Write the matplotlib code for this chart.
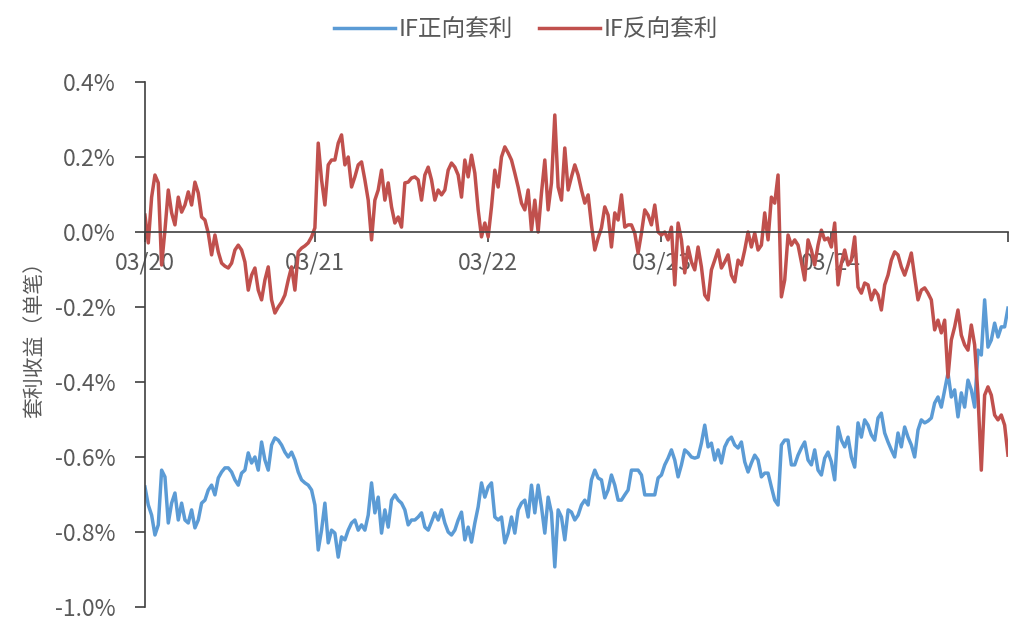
import numpy as np
import matplotlib
matplotlib.use("Agg")
import matplotlib.pyplot as plt
from matplotlib.ticker import FuncFormatter, FixedLocator

plt.rcParams['font.family'] = ['Noto Sans CJK SC', 'DejaVu Sans']

# weekly readings (%), 03/2020 -> 03/2025
fwd = [
    -0.680, -0.728, -0.755, -0.808, -0.781, -0.635, -0.653, -0.776, -0.723, -0.696,
    -0.768, -0.723, -0.768, -0.776, -0.741, -0.789, -0.768, -0.723, -0.715, -0.688,
    -0.675, -0.701, -0.656, -0.640, -0.629, -0.629, -0.640, -0.661, -0.675, -0.643,
    -0.635, -0.589, -0.616, -0.600, -0.635, -0.560, -0.608, -0.635, -0.568, -0.549,
    -0.555, -0.568, -0.587, -0.600, -0.587, -0.608, -0.640, -0.661, -0.669, -0.675,
    -0.688, -0.728, -0.848, -0.795, -0.723, -0.829, -0.795, -0.803, -0.867, -0.813,
    -0.821, -0.795, -0.776, -0.768, -0.795, -0.781, -0.795, -0.755, -0.669, -0.749,
    -0.707, -0.803, -0.741, -0.787, -0.715, -0.701, -0.715, -0.723, -0.741, -0.781,
    -0.768, -0.768, -0.760, -0.749, -0.787, -0.795, -0.773, -0.749, -0.768, -0.741,
    -0.776, -0.800, -0.808, -0.795, -0.768, -0.747, -0.821, -0.787, -0.827, -0.776,
    -0.733, -0.669, -0.707, -0.680, -0.669, -0.760, -0.768, -0.760, -0.829, -0.803,
    -0.760, -0.803, -0.741, -0.723, -0.715, -0.760, -0.675, -0.749, -0.675, -0.733,
    -0.803, -0.707, -0.749, -0.893, -0.741, -0.760, -0.821, -0.741, -0.747, -0.768,
    -0.755, -0.728, -0.715, -0.728, -0.661, -0.635, -0.656, -0.661, -0.709, -0.688,
    -0.648, -0.675, -0.715, -0.715, -0.701, -0.688, -0.635, -0.635, -0.635, -0.648,
    -0.701, -0.701, -0.701, -0.701, -0.656, -0.648, -0.621, -0.603, -0.581, -0.608,
    -0.653, -0.621, -0.581, -0.589, -0.600, -0.603, -0.600, -0.563, -0.515, -0.573,
    -0.563, -0.608, -0.581, -0.616, -0.573, -0.555, -0.547, -0.568, -0.576, -0.560,
    -0.613, -0.640, -0.616, -0.595, -0.608, -0.653, -0.643, -0.643, -0.680, -0.715,
    -0.728, -0.568, -0.555, -0.555, -0.621, -0.621, -0.595, -0.576, -0.560, -0.608,
    -0.621, -0.581, -0.635, -0.648, -0.603, -0.587, -0.613, -0.661, -0.520, -0.555,
    -0.573, -0.547, -0.600, -0.627, -0.509, -0.547, -0.501, -0.515, -0.541, -0.555,
    -0.496, -0.483, -0.536, -0.560, -0.581, -0.600, -0.536, -0.573, -0.520, -0.547,
    -0.568, -0.600, -0.528, -0.501, -0.509, -0.504, -0.496, -0.456, -0.440, -0.467,
    -0.421, -0.376, -0.440, -0.421, -0.493, -0.429, -0.467, -0.395, -0.421, -0.467,
    -0.315, -0.328, -0.181, -0.307, -0.288, -0.243, -0.280, -0.253, -0.253, -0.203,
]

rev = [
    0.045, -0.029, 0.093, 0.152, 0.131, -0.088, 0.005, 0.112, 0.051, 0.019,
    0.093, 0.053, 0.072, 0.107, 0.072, 0.133, 0.104, 0.040, 0.032, -0.003,
    -0.061, -0.008, -0.053, -0.083, -0.091, -0.096, -0.083, -0.048, -0.035, -0.048,
    -0.080, -0.155, -0.115, -0.096, -0.155, -0.181, -0.128, -0.093, -0.181, -0.216,
    -0.200, -0.187, -0.168, -0.128, -0.093, -0.155, -0.053, -0.043, -0.037, -0.029,
    -0.013, 0.011, 0.237, 0.139, 0.072, 0.179, 0.192, 0.192, 0.237, 0.259,
    0.179, 0.200, 0.120, 0.147, 0.179, 0.187, 0.139, 0.085, -0.021, 0.085,
    0.112, 0.165, 0.085, 0.131, 0.067, 0.024, 0.040, 0.013, 0.131, 0.133,
    0.144, 0.147, 0.139, 0.085, 0.152, 0.173, 0.139, 0.085, 0.112, 0.099,
    0.112, 0.165, 0.184, 0.173, 0.152, 0.093, 0.192, 0.147, 0.205, 0.157,
    0.059, -0.013, 0.024, -0.013, 0.067, 0.165, 0.120, 0.200, 0.227, 0.211,
    0.192, 0.157, 0.120, 0.077, 0.059, 0.112, 0.005, 0.085, 0.000, 0.104,
    0.192, 0.059, 0.131, 0.312, 0.120, 0.085, 0.224, 0.112, 0.147, 0.179,
    0.152, 0.112, 0.077, 0.099, 0.019, -0.048, -0.016, 0.011, 0.067, 0.045,
    -0.040, 0.051, 0.032, 0.099, 0.013, 0.019, 0.019, -0.003, -0.056, -0.003,
    0.059, 0.045, 0.019, 0.072, 0.000, -0.008, 0.000, -0.021, 0.013, -0.141,
    0.024, -0.021, -0.109, -0.040, -0.080, -0.101, -0.040, -0.093, -0.168, -0.181,
    -0.101, -0.075, -0.048, -0.096, -0.080, -0.061, -0.115, -0.133, -0.075, -0.088,
    -0.048, 0.000, -0.040, -0.003, -0.048, -0.035, 0.051, -0.021, 0.093, 0.077,
    0.152, -0.173, -0.128, -0.008, -0.035, -0.021, -0.035, -0.080, -0.128, -0.021,
    -0.048, -0.088, -0.035, 0.005, -0.021, -0.016, -0.040, 0.024, -0.141, -0.083,
    -0.048, -0.088, -0.075, -0.013, -0.147, -0.163, -0.136, -0.141, -0.181, -0.155,
    -0.168, -0.208, -0.141, -0.115, -0.075, -0.053, -0.061, -0.093, -0.115, -0.088,
    -0.056, -0.120, -0.181, -0.155, -0.149, -0.163, -0.181, -0.261, -0.235, -0.269,
    -0.235, -0.387, -0.288, -0.253, -0.208, -0.275, -0.301, -0.315, -0.248, -0.301,
    -0.435, -0.635, -0.435, -0.413, -0.435, -0.488, -0.501, -0.488, -0.515, -0.595,
]

tick_weeks = [0, 51, 103, 155, 206]
tick_labels = ['03/20', '03/21', '03/22', '03/23', '03/24']

blue = '#5B9BD5'
red = '#C0504D'
gray = '#595959'

fig = plt.figure(figsize=(10.23, 6.27), dpi=100)
ax = fig.add_axes([0.1417, 0.0319, 0.8436, 0.8373])

x = np.arange(len(fwd))
ax.plot(x, fwd, color=blue, lw=2.5, label='IF正向套利')
ax.plot(x, rev, color=red, lw=2.5, label='IF反向套利')

ax.set_xlim(0, len(fwd) - 1)
ax.set_ylim(-1.0, 0.4)
ax.set_yticks(np.round(np.arange(-1.0, 0.41, 0.2), 1))
ax.yaxis.set_major_formatter(FuncFormatter(lambda v, p: f'{abs(v):.1f}%' if abs(v) < 1e-9 else f'{v:.1f}%'))

ax.spines['top'].set_visible(False)
ax.spines['right'].set_visible(False)
ax.spines['bottom'].set_position(('data', 0))
ax.spines['left'].set_color('#404040')
ax.spines['bottom'].set_color('#404040')
ax.spines['left'].set_linewidth(1.2)
ax.spines['bottom'].set_linewidth(1.2)

ax.xaxis.set_major_locator(FixedLocator(tick_weeks))
ax.set_xticklabels(tick_labels)
ax.xaxis.set_minor_locator(FixedLocator([len(fwd) - 1]))
ax.tick_params(axis='x', which='both', direction='out', length=7, width=1.2,
               color='#404040', labelsize=16.5, labelcolor=gray, pad=7)
ax.tick_params(axis='y', direction='out', length=7, width=1.2, color='#404040',
               labelsize=16.5, labelcolor=gray, pad=14)

ax.set_ylabel('套利收益（单笔）', fontsize=15, color=gray)
ax.yaxis.set_label_coords(-0.116, 0.52)

fig.legend(loc='upper center', bbox_to_anchor=(0.514, 1.005), ncol=2, frameon=False,
           fontsize=17, labelcolor=gray, handlelength=2.6, handletextpad=0.15,
           columnspacing=1.1)

fig.savefig('out.png', dpi=100)
